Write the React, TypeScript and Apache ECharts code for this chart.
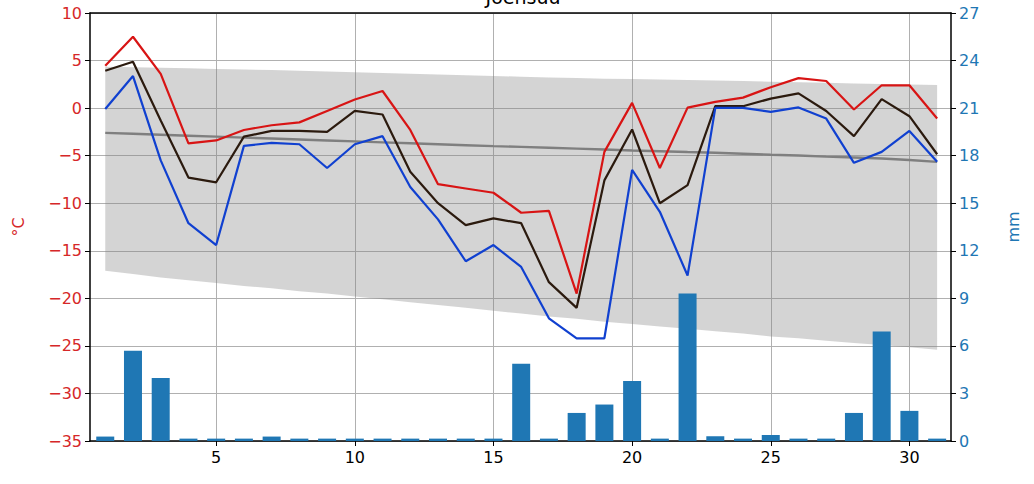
import React, { useEffect, useRef } from "react";
import * as echarts from "echarts";

const days = Array.from({ length: 31 }, (_, i) => i + 1);

const tMax = [4.45, 7.5, 3.6, -3.7, -3.4, -2.3, -1.8, -1.5, -0.3, 0.9, 1.8, -2.3, -8.0, -8.45, -8.9, -11.0, -10.8, -19.5, -4.6, 0.55, -6.3, 0.05, 0.65, 1.1, 2.2, 3.15, 2.85, -0.15, 2.4, 2.4, -1.1];
const tMean = [3.93, 4.88, -1.3, -7.3, -7.8, -3.0, -2.4, -2.4, -2.5, -0.3, -0.67, -6.7, -10.0, -12.3, -11.6, -12.1, -18.3, -21.0, -7.6, -2.25, -10.0, -8.1, 0.2, 0.2, 1.0, 1.55, -0.3, -2.95, 0.95, -0.85, -4.85];
const tMin = [-0.1, 3.37, -5.5, -12.1, -14.4, -3.97, -3.65, -3.8, -6.3, -3.8, -2.95, -8.3, -11.7, -16.1, -14.4, -16.7, -22.1, -24.2, -24.2, -6.5, -10.9, -17.6, 0.03, 0.03, -0.39, 0.07, -1.1, -5.75, -4.6, -2.4, -5.65];
const precip = [0.28, 5.7, 3.98, 0.15, 0.15, 0.15, 0.28, 0.15, 0.15, 0.15, 0.15, 0.15, 0.15, 0.15, 0.15, 4.88, 0.15, 1.77, 2.3, 3.79, 0.15, 9.3, 0.3, 0.15, 0.38, 0.15, 0.15, 1.77, 6.9, 1.9, 0.15];
const bandTop = [4.35, 4.3, 4.25, 4.2, 4.1, 4.05, 4.0, 3.93, 3.86, 3.78, 3.7, 3.62, 3.54, 3.46, 3.38, 3.3, 3.23, 3.17, 3.1, 3.05, 3.0, 2.95, 2.9, 2.85, 2.78, 2.72, 2.66, 2.6, 2.53, 2.47, 2.42];
const bandBottom = [-17.1, -17.45, -17.8, -18.1, -18.4, -18.7, -18.95, -19.25, -19.5, -19.8, -20.1, -20.4, -20.7, -21.0, -21.3, -21.6, -21.9, -22.15, -22.45, -22.7, -22.95, -23.2, -23.45, -23.7, -24.0, -24.2, -24.45, -24.7, -24.9, -25.15, -25.4];
const meanClim = [-2.6, -2.7, -2.8, -2.9, -3.0, -3.1, -3.2, -3.3, -3.4, -3.5, -3.6, -3.7, -3.8, -3.9, -4.0, -4.08, -4.17, -4.26, -4.35, -4.45, -4.53, -4.62, -4.7, -4.8, -4.9, -4.99, -5.1, -5.2, -5.3, -5.45, -5.65];

const xTicks = [5, 10, 15, 20, 25, 30];
const title = "Joensuu";

const FONT = "DejaVu Sans";
const minus = (v: number) => String(v).replace("-", "\u2212");

export default function App() {
  const ref = useRef<HTMLDivElement>(null);
  useEffect(() => {
    document.body.style.margin = "0";
    const chart = echarts.init(ref.current!, null, { renderer: "svg" });
    const pair = (arr: number[]) => days.map((d, i) => [d, arr[i]]);
    const bandData = days.map((d, i) => [d, bandBottom[i], bandTop[i]]);
    chart.setOption({
      animation: false,
      textStyle: { fontFamily: FONT },
      grid: { left: 90, right: 83, top: 13, bottom: 43, containLabel: false },
      graphic: [
        {
          type: "text",
          x: 523,
          y: -13,
          style: { text: title, font: `19px ${FONT}`, fill: "#000", textAlign: "center" },
          z: 100,
        },
      ],
      xAxis: [
        {
          type: "value",
          min: 0.45,
          max: 31.5,
          axisLine: { show: true, onZero: false, lineStyle: { color: "#000", width: 1.5 } },
          axisTick: { show: true, customValues: xTicks, length: 5, lineStyle: { color: "#000" } },
          axisLabel: { customValues: xTicks, color: "#000", fontSize: 16, margin: 8, fontFamily: FONT },
          splitLine: { show: true, lineStyle: { color: "#b0b0b0", width: 1 } },
        },
        {
          type: "value",
          position: "top",
          min: 0.45,
          max: 31.5,
          axisLine: { show: true, onZero: false, lineStyle: { color: "#000", width: 1.5 } },
          axisTick: { show: false },
          axisLabel: { show: false },
          splitLine: { show: false },
        },
      ],
      yAxis: [
        {
          type: "value",
          min: -35,
          max: 10,
          interval: 5,
          position: "left",
          name: "°C",
          nameLocation: "middle",
          nameGap: 64,
          nameTextStyle: { color: "#d62728", fontSize: 16, fontFamily: FONT },
          axisLine: { show: true, onZero: false, lineStyle: { color: "#000", width: 1.5 } },
          axisTick: { show: true, length: 5, lineStyle: { color: "#000" } },
          axisLabel: { color: "#d62728", fontSize: 16, margin: 8, fontFamily: FONT, formatter: minus },
          splitLine: { show: true, lineStyle: { color: "#b0b0b0", width: 1 } },
        },
        {
          type: "value",
          min: 0,
          max: 27,
          interval: 3,
          position: "right",
          name: "mm",
          nameLocation: "middle",
          nameGap: 54,
          nameTextStyle: { color: "#1f77b4", fontSize: 16, fontFamily: FONT },
          axisLine: { show: true, onZero: false, lineStyle: { color: "#000", width: 1.5 } },
          axisTick: { show: true, length: 5, lineStyle: { color: "#000" } },
          axisLabel: { color: "#1f77b4", fontSize: 16, margin: 8, fontFamily: FONT },
          splitLine: { show: false },
        },
      ],
      series: [
        {
          type: "custom",
          data: bandData,
          silent: true,
          z: 1,
          encode: { x: 0, y: [1, 2] },
          renderItem: (params: any, api: any) => {
            if (params.dataIndex !== 0) return null;
            const top = bandData.map((r) => api.coord([r[0], r[2]]));
            const bottom = bandData.map((r) => api.coord([r[0], r[1]])).reverse();
            return {
              type: "polygon",
              shape: { points: top.concat(bottom) },
              style: { fill: "rgba(128,128,128,0.34)" },
            };
          },
        },
        {
          type: "bar",
          yAxisIndex: 1,
          data: pair(precip),
          barWidth: 18,
          itemStyle: { color: "#1f77b4" },
          z: 2,
        },
        {
          type: "line",
          data: pair(meanClim),
          symbol: "none",
          lineStyle: { color: "#7f7f7f", width: 2.4 },
          z: 3,
        },
        {
          type: "line",
          data: pair(tMax),
          symbol: "none",
          lineStyle: { color: "#d81414", width: 2.2 },
          z: 4,
        },
        {
          type: "line",
          data: pair(tMean),
          symbol: "none",
          lineStyle: { color: "#2b1a0e", width: 2.2 },
          z: 4,
        },
        {
          type: "line",
          data: pair(tMin),
          symbol: "none",
          lineStyle: { color: "#1040d0", width: 2.2 },
          z: 4,
        },
      ],
    });
    return () => chart.dispose();
  }, []);
  return <div ref={ref} style={{ width: 1034, height: 484 }} />;
}
